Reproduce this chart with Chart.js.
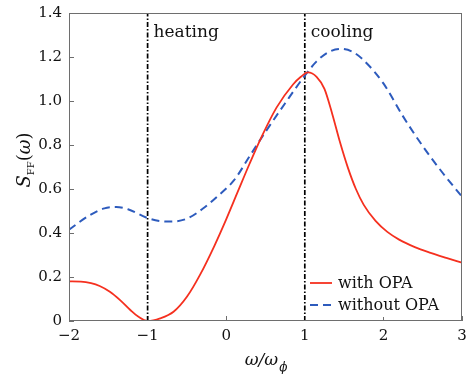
<!DOCTYPE html>
<html>
<head>
<meta charset="utf-8">
<script src="https://cdn.jsdelivr.net/npm/chart.js@4.4.1/dist/chart.umd.min.js"></script>
<style>
  html, body { margin: 0; padding: 0; background: #fff; }
  #wrap { width: 466px; height: 379px; }
</style>
</head>
<body>
<div id="wrap"><canvas id="c" width="466" height="379"></canvas></div>
<script>
// Force spectrum S_FF(ω) against ω/ω_ϕ, with and without the OPA.
const withOpaX = [-2, -1.85, -1.72, -1.61, -1.48, -1.35, -1.22, -1.12, -1.0, -0.84, -0.67, -0.5, -0.33, -0.15, 0, 0.15, 0.3, 0.45, 0.64, 0.85, 0.95, 1.04, 1.15, 1.25, 1.35, 1.45, 1.55, 1.65, 1.75, 1.9, 2.05, 2.2, 2.4, 2.6, 2.8, 3.0];
const withOpaY = [0.18, 0.179, 0.172, 0.159, 0.133, 0.095, 0.05, 0.02, 0.0, 0.012, 0.042, 0.11, 0.212, 0.342, 0.462, 0.59, 0.717, 0.837, 0.97, 1.075, 1.11, 1.13, 1.11, 1.055, 0.94, 0.81, 0.695, 0.60, 0.528, 0.455, 0.405, 0.37, 0.336, 0.31, 0.287, 0.265];

const withoutOpaX = [-2, -1.75, -1.55, -1.4, -1.25, -1.0, -0.85, -0.7, -0.5, -0.3, -0.1, 0.1, 0.3, 0.5, 0.75, 1.0, 1.15, 1.3, 1.45, 1.6, 1.75, 2.0, 2.25, 2.5, 2.75, 3.0];
const withoutOpaY = [0.415, 0.478, 0.512, 0.518, 0.508, 0.468, 0.455, 0.452, 0.465, 0.51, 0.57, 0.64, 0.75, 0.86, 0.99, 1.115, 1.18, 1.222, 1.237, 1.225, 1.185, 1.08, 0.93, 0.795, 0.675, 0.565];

// Resonance markers (heating / cooling sidebands)
const markerX = [-1, 1];
const markerText = ['heating', 'cooling'];

const xTicks = [-2, -1, 0, 1, 2, 3];
const yTicks = [0, 0.2, 0.4, 0.6, 0.8, 1.0, 1.2, 1.4];

const seriesLabels = ['with OPA', 'without OPA'];
const RED = '#f5301f';
const BLUE = '#2d5bbd';
const SERIF = '"DejaVu Serif", serif';

const pts = (xs, ys) => xs.map((x, i) => ({ x, y: ys[i] }));

const datasets = [
  {
    label: seriesLabels[0],
    data: pts(withOpaX, withOpaY),
    borderColor: RED, borderWidth: 1.8, pointRadius: 0,
    cubicInterpolationMode: 'monotone', fill: false
  },
  {
    label: seriesLabels[1],
    data: pts(withoutOpaX, withoutOpaY),
    borderColor: BLUE, borderWidth: 2, borderDash: [8, 5], pointRadius: 0,
    cubicInterpolationMode: 'monotone', fill: false
  }
];
markerX.forEach(mx => datasets.push({
  label: 'marker',
  data: [{ x: mx, y: 0 }, { x: mx, y: 1.4 }],
  borderColor: '#000', borderWidth: 1.7, borderDash: [5, 2, 1.5, 2],
  pointRadius: 0, tension: 0, fill: false
}));

const frameAndText = {
  id: 'frameAndText',
  afterDatasetsDraw(chart) {
    const { ctx, chartArea: a, scales } = chart;
    const xs = scales.x, ys = scales.y;
    ctx.save();
    // plot frame
    ctx.strokeStyle = '#6e6e6e';
    ctx.lineWidth = 1;
    ctx.strokeRect(a.left + 0.5, a.top + 0.5, a.right - a.left - 1, a.bottom - a.top - 1);
    // inward ticks
    ctx.beginPath();
    xTicks.forEach(v => {
      const p = Math.round(xs.getPixelForValue(v)) + 0.5;
      ctx.moveTo(p, a.bottom); ctx.lineTo(p, a.bottom - 5);
    });
    yTicks.forEach(v => {
      const p = Math.round(ys.getPixelForValue(v)) + 0.5;
      ctx.moveTo(a.left, p); ctx.lineTo(a.left + 5, p);
    });
    ctx.stroke();

    // region labels
    ctx.fillStyle = '#111';
    ctx.font = '17px ' + SERIF;
    ctx.textBaseline = 'alphabetic';
    ctx.textAlign = 'left';
    markerX.forEach((mx, i) => {
      ctx.fillText(markerText[i], xs.getPixelForValue(mx) + 6, ys.getPixelForValue(1.4) + 24);
    });

    // legend
    const lx = a.right - 152, ly0 = 283, dy = 22;
    ctx.fillStyle = '#fff';
    ctx.fillRect(lx - 3, ly0 - 12, 150, 46);
    ctx.font = '16px ' + SERIF;
    ctx.textBaseline = 'middle';
    [0, 1].forEach(i => {
      const ds = chart.data.datasets[i];
      const y = ly0 + i * dy;
      ctx.strokeStyle = ds.borderColor;
      ctx.lineWidth = ds.borderWidth;
      ctx.setLineDash(ds.borderDash || []);
      ctx.beginPath();
      ctx.moveTo(lx, y); ctx.lineTo(lx + 22, y);
      ctx.stroke();
      ctx.setLineDash([]);
      ctx.fillStyle = '#111';
      ctx.fillText(ds.label, lx + 28, y + 1);
    });

    // x axis title: ω/ω_ϕ
    ctx.textBaseline = 'alphabetic';
    ctx.fillStyle = '#111';
    const xMain = 'ω/ω', xSub = '\u03D5';
    ctx.font = 'italic 17px ' + SERIF;
    const w1 = ctx.measureText(xMain).width;
    ctx.font = 'italic 12px ' + SERIF;
    const w2 = ctx.measureText(xSub).width;
    let sx = (a.left + a.right) / 2 - (w1 + w2) / 2;
    ctx.font = 'italic 17px ' + SERIF;
    ctx.fillText(xMain, sx, 365);
    ctx.font = 'italic 12px ' + SERIF;
    ctx.fillText(xSub, sx + w1 + 1, 371);

    // y axis title: S_FF(ω)
    ctx.translate(24, 160);
    ctx.rotate(-Math.PI / 2);
    const parts = [
      { t: 'S', f: 'italic 18px ' + SERIF, dy: 0 },
      { t: 'FF', f: '10px ' + SERIF, dy: 4 },
      { t: '(', f: '18px ' + SERIF, dy: 0 },
      { t: 'ω', f: 'italic 18px ' + SERIF, dy: 0 },
      { t: ')', f: '18px ' + SERIF, dy: 0 }
    ];
    let total = 0;
    parts.forEach(p => { ctx.font = p.f; p.w = ctx.measureText(p.t).width; total += p.w; });
    let cx = -total / 2;
    parts.forEach(p => {
      ctx.font = p.f;
      ctx.fillText(p.t, cx, 6 + p.dy);
      cx += p.w;
    });
    ctx.restore();
  }
};

new Chart(document.getElementById('c'), {
  type: 'line',
  data: { datasets },
  options: {
    responsive: false,
    animation: false,
    devicePixelRatio: 1,
    layout: { padding: { left: 0, right: 4, top: 13, bottom: 0 } },
    plugins: { legend: { display: false }, tooltip: { enabled: false } },
    scales: {
      x: {
        type: 'linear', min: -2, max: 3,
        afterBuildTicks: s => { s.ticks = xTicks.map(v => ({ value: v })); },
        afterFit: s => { s.height = 379 - 321; s.paddingLeft = 0; s.paddingRight = 0; },
        grid: { display: false, drawTicks: false },
        border: { display: false },
        ticks: {
          padding: 6,
          color: '#111',
          font: { family: SERIF, size: 15 },
          callback: v => (v < 0 ? '\u2212' + Math.abs(v) : String(v))
        }
      },
      y: {
        type: 'linear', min: 0, max: 1.4,
        afterBuildTicks: s => { s.ticks = yTicks.map(v => ({ value: v })); },
        afterFit: s => { s.width = 69; s.paddingTop = 0; s.paddingBottom = 0; },
        grid: { display: false, drawTicks: false },
        border: { display: false },
        ticks: {
          padding: 7,
          color: '#111',
          font: { family: SERIF, size: 15 },
          callback: v => (v === 0 ? '0' : v.toFixed(1))
        }
      }
    }
  },
  plugins: [frameAndText]
});
</script>
</body>
</html>
